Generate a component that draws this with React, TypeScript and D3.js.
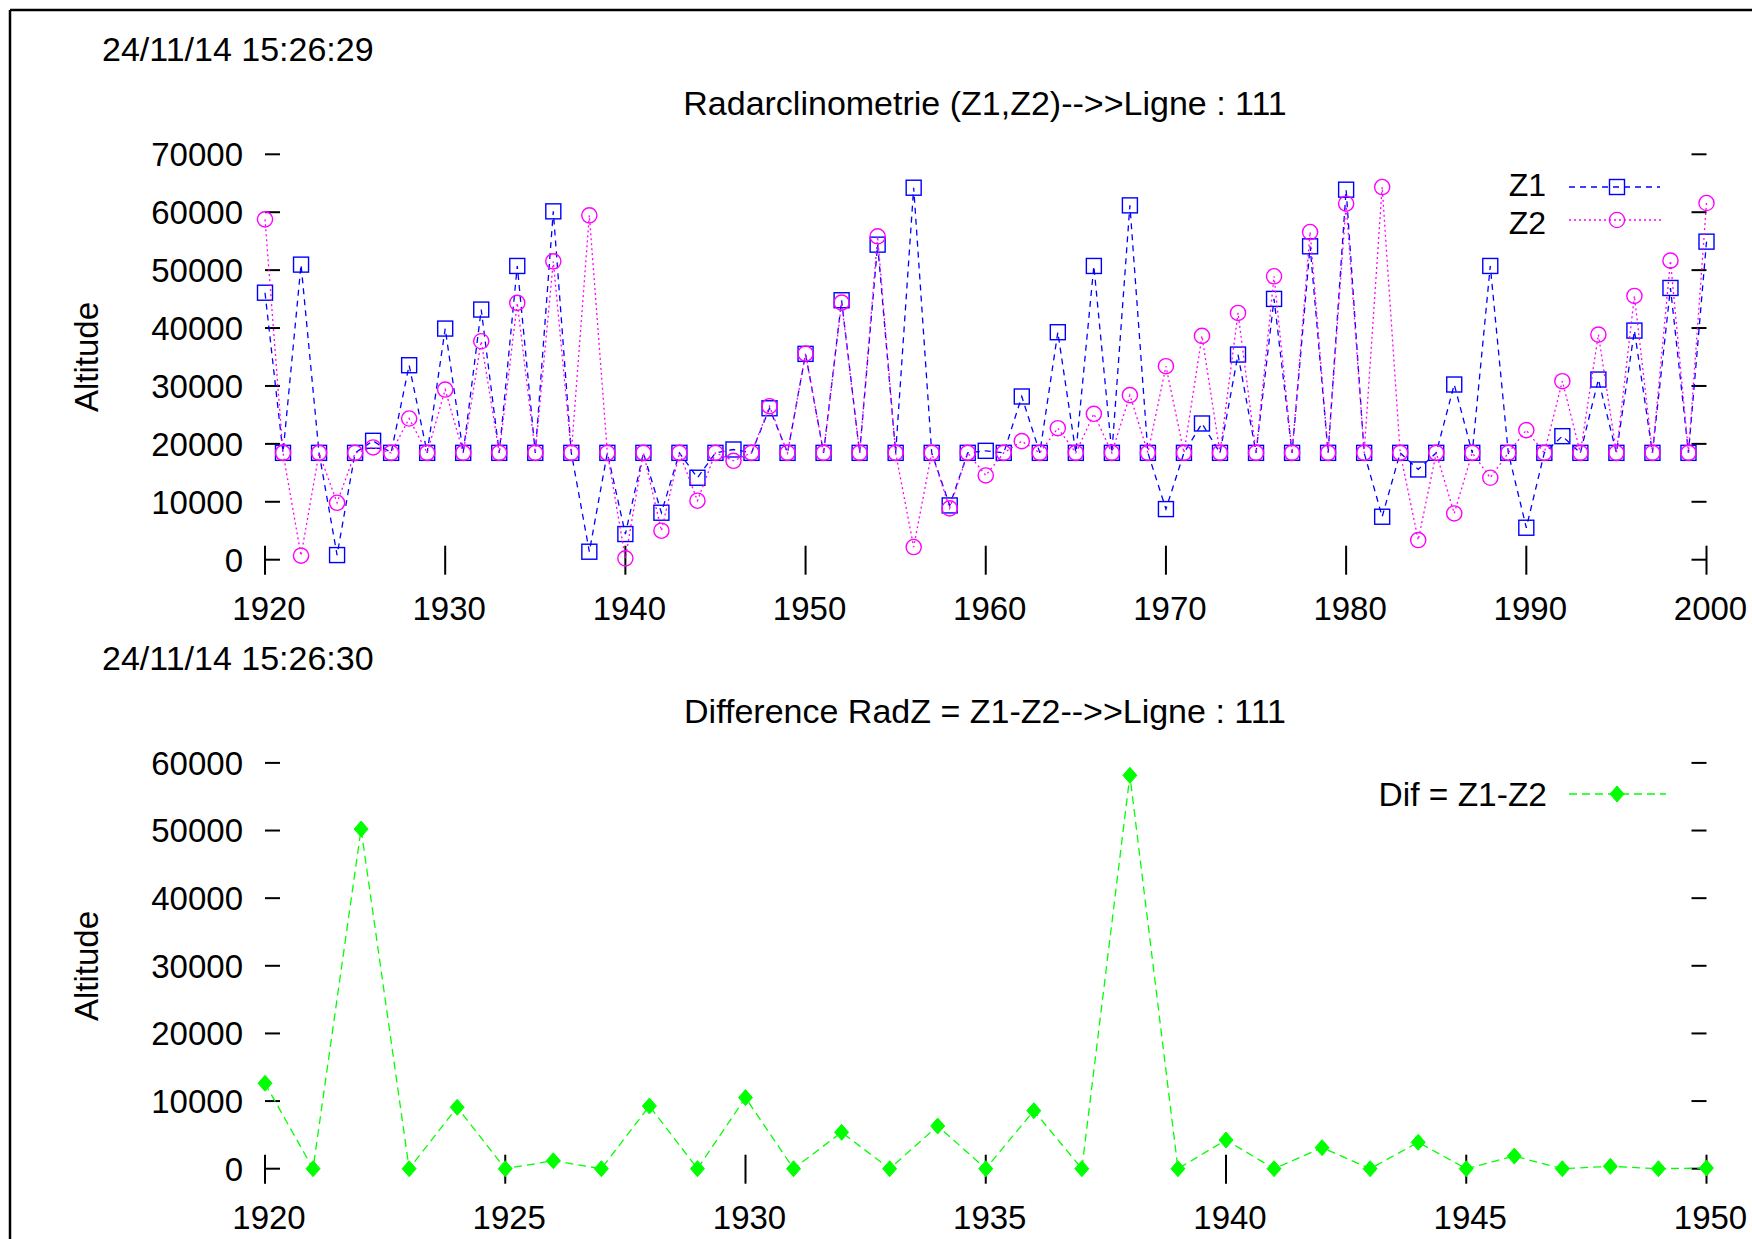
import React from "react";
import * as d3 from "d3";

const years = [
  1920, 1921, 1922, 1923, 1924, 1925, 1926, 1927, 1928, 1929,
  1930, 1931, 1932, 1933, 1934, 1935, 1936, 1937, 1938, 1939,
  1940, 1941, 1942, 1943, 1944, 1945, 1946, 1947, 1948, 1949,
  1950, 1951, 1952, 1953, 1954, 1955, 1956, 1957, 1958, 1959,
  1960, 1961, 1962, 1963, 1964, 1965, 1966, 1967, 1968, 1969,
  1970, 1971, 1972, 1973, 1974, 1975, 1976, 1977, 1978, 1979,
  1980, 1981, 1982, 1983, 1984, 1985, 1986, 1987, 1988, 1989,
  1990, 1991, 1992, 1993, 1994, 1995, 1996, 1997, 1998, 1999,
  2000,
];

const z1 = [
  46100, 18450, 50950, 18450, 800, 18450, 20530, 18450, 33580, 18450,
  39910, 18450, 43190, 18450, 50720, 18450, 60150, 18450, 1380, 18450,
  4430, 18450, 8110, 18450, 14150, 18450, 19030, 18450, 26150, 18450,
  35540, 18450, 44800, 18450, 54400, 18450, 64230, 18450, 9370, 18450,
  18800, 18450, 28180, 18450, 39280, 18450, 50720, 18450, 61180, 18450,
  8740, 18450, 23520, 18450, 35420, 18450, 45030, 18450, 54110, 18450,
  63890, 18450, 7420, 18450, 15580, 18450, 30250, 18450, 50720, 18450,
  5520, 18450, 21330, 18450, 31110, 18450, 39560, 18450, 46920, 18450,
  54920,
];

const z2 = [
  58770, 18450, 690, 18450, 9830, 18450, 19380, 18450, 24380, 18450,
  29380, 18450, 37720, 18450, 44340, 18450, 51520, 18450, 59460, 18450,
  230, 18450, 5000, 18450, 10180, 18450, 17080, 18450, 26500, 18450,
  35600, 18450, 44390, 18450, 55840, 18450, 2190, 18450, 8860, 18450,
  14550, 18450, 20470, 18450, 22710, 18450, 25190, 18450, 28410, 18450,
  33410, 18450, 38640, 18450, 42610, 18450, 48940, 18450, 56580, 18450,
  61470, 18450, 64350, 18450, 3390, 18450, 7990, 18450, 14150, 18450,
  22370, 18450, 30820, 18450, 38870, 18450, 45540, 18450, 51640, 18450,
  61590,
];

const difYears = [
  1920, 1921, 1922, 1923, 1924, 1925, 1926, 1927, 1928, 1929,
  1930, 1931, 1932, 1933, 1934, 1935, 1936, 1937, 1938, 1939,
  1940, 1941, 1942, 1943, 1944, 1945, 1946, 1947, 1948, 1949,
  1950,
];

const dif = [
  12630, 0, 50220, 0, 9080, 0, 1180, 0, 9270, 0,
  10510, 0, 5380, 0, 6310, 0, 8580, 0, 58160, 0,
  4240, 0, 3110, 0, 3900, 0, 1870, 0, 350, 0,
  100,
];

const topYTicks = [0, 10000, 20000, 30000, 40000, 50000, 60000, 70000];
const topXTicks = [1920, 1930, 1940, 1950, 1960, 1970, 1980, 1990, 2000];
const botYTicks = [0, 10000, 20000, 30000, 40000, 50000, 60000];
const botXTicks = [1920, 1925, 1930, 1935, 1940, 1945, 1950];

const FONT = "'Liberation Sans', Arial, Helvetica, sans-serif";
const BLUE = "#0000ff";
const MAGENTA = "#ff00ff";
const GREEN = "#00ff00";

const X0 = 265;
const X1 = 1706.5;

function Axes({ x, y, xTicks, yTicks }: any) {
  const y0 = y(0);
  return (
    <g stroke="#000" strokeWidth={2}>
      {yTicks.map((t: number) => (
        <g key={"y" + t}>
          <line x1={X0} x2={X0 + 15} y1={y(t)} y2={y(t)} />
          <line x1={X1 - 15} x2={X1} y1={y(t)} y2={y(t)} />
          <text
            x={243}
            y={y(t)}
            dy="0.36em"
            textAnchor="end"
            fontSize={33}
            fontFamily={FONT}
            stroke="none"
            fill="#000"
          >
            {t}
          </text>
        </g>
      ))}
      {xTicks.map((t: number) => (
        <g key={"x" + t}>
          <line x1={x(t)} x2={x(t)} y1={y0 - 14} y2={y0 + 15} />
          <text
            x={x(t) + 4}
            y={y0 + 60}
            textAnchor="middle"
            fontSize={33}
            fontFamily={FONT}
            stroke="none"
            fill="#000"
          >
            {t}
          </text>
        </g>
      ))}
    </g>
  );
}

function Square({ cx, cy }: any) {
  return (
    <rect x={cx - 7.5} y={cy - 7.5} width={15} height={15} fill="none" stroke={BLUE} strokeWidth={1.4} />
  );
}
function Circle({ cx, cy }: any) {
  return <circle cx={cx} cy={cy} r={7.6} fill="none" stroke={MAGENTA} strokeWidth={1.4} />;
}
function Diamond({ cx, cy }: any) {
  return (
    <path
      d={`M${cx},${cy - 8}L${cx + 7},${cy}L${cx},${cy + 8}L${cx - 7},${cy}Z`}
      fill={GREEN}
      stroke={GREEN}
      strokeWidth={1}
    />
  );
}

export default function App() {
  const xTop = d3.scaleLinear().domain([1920, 2000]).range([X0, X1]);
  const yTop = d3.scaleLinear().domain([0, 70000]).range([559.7, 154.3]);
  const xBot = d3.scaleLinear().domain([1920, 1950]).range([X0, X1]);
  const yBot = d3.scaleLinear().domain([0, 60000]).range([1168.7, 762.9]);

  const lineTop = d3
    .line<number>()
    .x((_, i) => xTop(years[i]))
    .y((d) => yTop(d));
  const lineBot = d3
    .line<number>()
    .x((_, i) => xBot(difYears[i]))
    .y((d) => yBot(d));

  return (
    <div style={{ position: "absolute", left: 0, top: 0 }}>
      <svg width={1752} height={1239} style={{ display: "block", background: "#fff" }}>
        <rect x={0} y={0} width={1752} height={1239} fill="#fff" />
        {/* frame */}
        <line x1={10} x2={1752} y1={10} y2={10} stroke="#000" strokeWidth={2.5} />
        <line x1={10} x2={10} y1={10} y2={1239} stroke="#000" strokeWidth={2.5} />

        {/* ---------- top plot ---------- */}
        <text x={102} y={61} fontSize={34} fontFamily={FONT} fill="#000">
          24/11/14 15:26:29
        </text>
        <text x={985} y={115} textAnchor="middle" fontSize={34} fontFamily={FONT} fill="#000">
          Radarclinometrie (Z1,Z2)--&gt;&gt;Ligne : 111
        </text>
        <text
          transform={`translate(98,357) rotate(-90)`}
          textAnchor="middle"
          fontSize={33}
          fontFamily={FONT}
          fill="#000"
        >
          Altitude
        </text>
        <Axes x={xTop} y={yTop} xTicks={topXTicks} yTicks={topYTicks} />

        <path d={lineTop(z1) || ""} fill="none" stroke={BLUE} strokeWidth={1.3} strokeDasharray="6,5" />
        {z1.map((v, i) => (
          <Square key={"s" + i} cx={xTop(years[i])} cy={yTop(v)} />
        ))}
        <path d={lineTop(z2) || ""} fill="none" stroke={MAGENTA} strokeWidth={1.3} strokeDasharray="2,3" />
        {z2.map((v, i) => (
          <Circle key={"c" + i} cx={xTop(years[i])} cy={yTop(v)} />
        ))}

        {/* legend top */}
        <text x={1546} y={184.5} dy="0.36em" textAnchor="end" fontSize={32} fontFamily={FONT} fill="#000">
          Z1
        </text>
        <line x1={1569} x2={1660} y1={187} y2={187} stroke={BLUE} strokeWidth={1.3} strokeDasharray="6,5" />
        <Square cx={1617} cy={187} />
        <text x={1546} y={222.5} dy="0.36em" textAnchor="end" fontSize={32} fontFamily={FONT} fill="#000">
          Z2
        </text>
        <line x1={1569} x2={1663} y1={220} y2={220} stroke={MAGENTA} strokeWidth={1.3} strokeDasharray="2,3" />
        <Circle cx={1617} cy={220} />

        {/* ---------- bottom plot ---------- */}
        <text x={102} y={670} fontSize={34} fontFamily={FONT} fill="#000">
          24/11/14 15:26:30
        </text>
        <text x={985} y={723} textAnchor="middle" fontSize={34} fontFamily={FONT} fill="#000">
          Difference RadZ = Z1-Z2--&gt;&gt;Ligne : 111
        </text>
        <text
          transform={`translate(98,966) rotate(-90)`}
          textAnchor="middle"
          fontSize={33}
          fontFamily={FONT}
          fill="#000"
        >
          Altitude
        </text>
        <Axes x={xBot} y={yBot} xTicks={botXTicks} yTicks={botYTicks} />

        <path d={lineBot(dif) || ""} fill="none" stroke={GREEN} strokeWidth={1.3} strokeDasharray="8,5" />
        {dif.map((v, i) => (
          <Diamond key={"d" + i} cx={xBot(difYears[i])} cy={yBot(v)} />
        ))}

        <text x={1547} y={794} dy="0.36em" textAnchor="end" fontSize={33.5} fontFamily={FONT} fill="#000">
          Dif = Z1-Z2
        </text>
        <line x1={1569} x2={1666} y1={794} y2={794} stroke={GREEN} strokeWidth={1.3} strokeDasharray="8,5" />
        <Diamond cx={1617} cy={794} />
      </svg>
    </div>
  );
}
